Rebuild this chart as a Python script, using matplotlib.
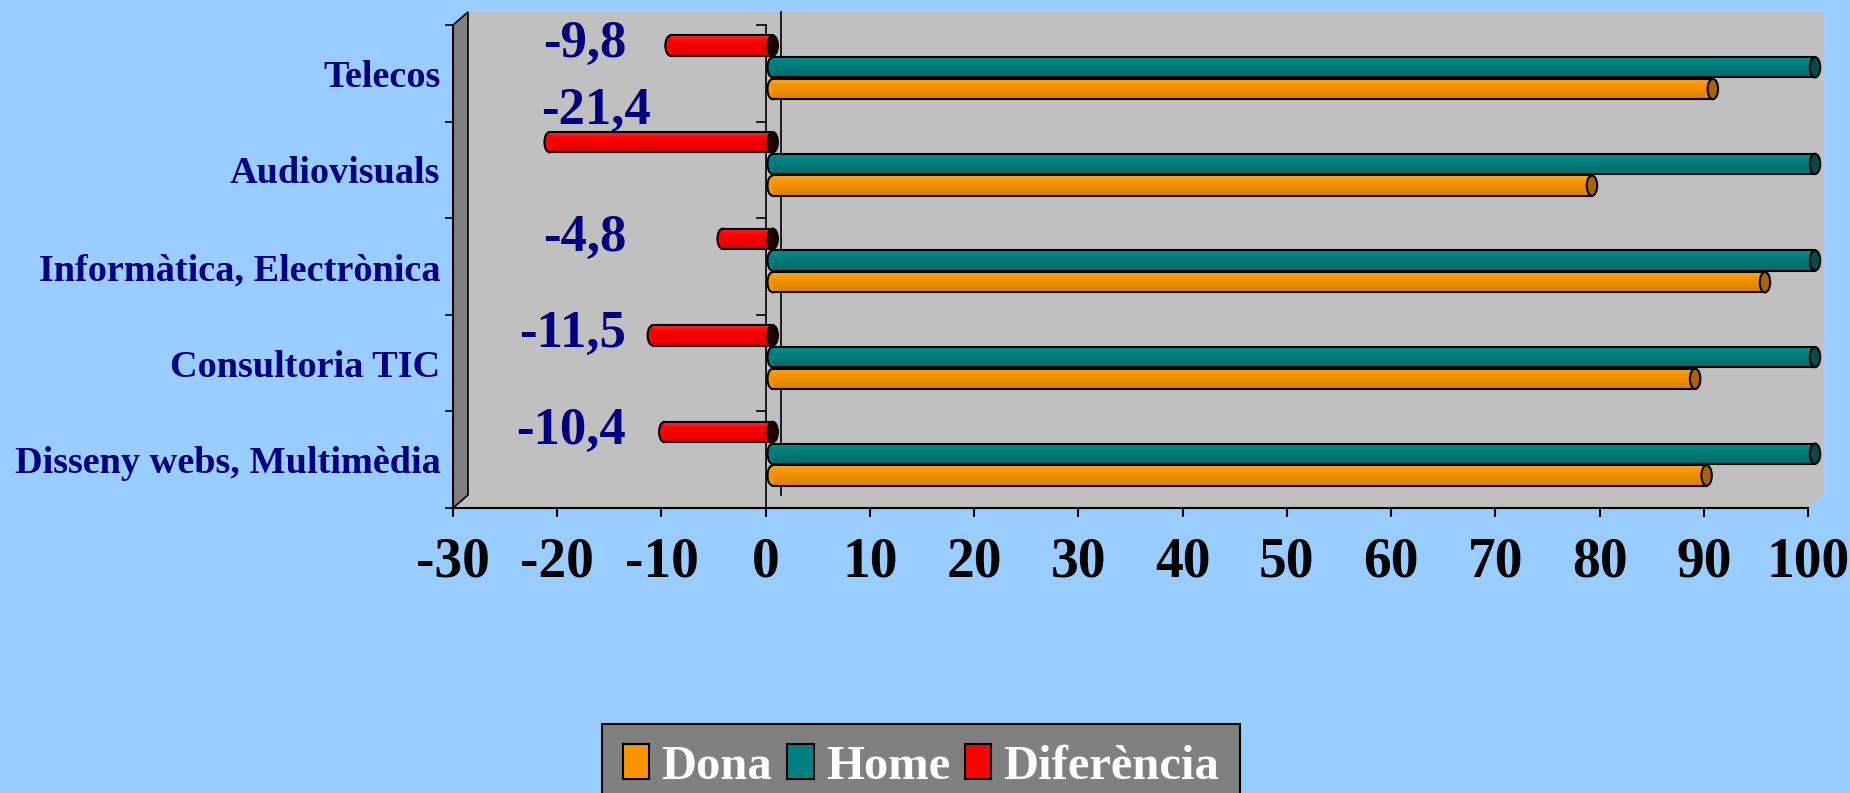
import matplotlib
matplotlib.use("Agg")
import matplotlib.pyplot as plt
from matplotlib.patches import Rectangle, Ellipse, Polygon, Patch
from matplotlib.transforms import ScaledTranslation, IdentityTransform
from matplotlib.font_manager import FontProperties
from matplotlib.colors import to_rgb
import numpy as np

# ---- data -------------------------------------------------------------
categories = ["Disseny webs, Multimèdia", "Consultoria TIC",
              "Informàtica, Electrònica", "Audiovisuals", "Telecos"]
dona = [89.6, 88.5, 95.2, 78.6, 90.2]
home = [100, 100, 100, 100, 100]
diferencia = [-10.4, -11.5, -4.8, -21.4, -9.8]
series_names = ["Dona", "Home", "Diferència"]
xticks = [-30, -20, -10, 0, 10, 20, 30, 40, 50, 60, 70, 80, 90, 100]

# ---- styling ----------------------------------------------------------
W, H, DPI = 1850, 793, 100
BG = "#99CCFF"
WALL = "#C0C0C0"
SIDE = "#808080"
NAVY = "#000080"
SERIF = "Liberation Serif"

colors = {  # (highlight, body, shade, end cap)
    "Dona": ("#FFA81F", "#F79400", "#D98000", "#A86400"),
    "Home": ("#0C8C8C", "#008080", "#006868", "#004A4A"),
    "Diferència": ("#FF2A2A", "#FF0000", "#D80000", "#200000"),
}

fig = plt.figure(figsize=(W / DPI, H / DPI), dpi=DPI)
fig.patch.set_facecolor(BG)

# front plane of the plot box, in pixels from the top-left corner
left, right, top, bottom = 453, 1808, 25, 508
ax = fig.add_axes([left / W, 1 - bottom / H, (right - left) / W, (bottom - top) / H])
ax.set_xlim(xticks[0], xticks[-1])
ax.set_ylim(0, len(categories))
ax.set_facecolor("none")

DEPTH = (15, 13)      # back wall offset (px)
MID = (7, 6)          # bars sit halfway into the depth


def shifted(dx, dy):
    return ax.transData + ScaledTranslation(dx / DPI, dy / DPI, fig.dpi_scale_trans)


def px(x, y, dx=0, dy=0):
    p = ax.transData.transform((x, y))
    return (p[0] + dx, p[1] + dy)


xmin, xmax = xticks[0], xticks[-1]
n = len(categories)

# back wall
ax.add_patch(Rectangle((xmin, 0), xmax - xmin, n, transform=shifted(*DEPTH),
                       facecolor=WALL, edgecolor="none", zorder=0, clip_on=False))
# floor strip under the bars
floor = [px(xmin, 0), px(xmax, 0), px(xmax, 0, *DEPTH), px(xmin, 0, *DEPTH)]
ax.add_patch(Polygon(floor, closed=True, transform=IdentityTransform(),
                     facecolor=WALL, edgecolor="none", zorder=0.1, clip_on=False))
# side wall on the category axis
side = [px(xmin, 0), px(xmin, n), px(xmin, n, *DEPTH), px(xmin, 0, *DEPTH)]
ax.add_patch(Polygon(side, closed=True, transform=IdentityTransform(),
                     facecolor=SIDE, edgecolor="black", linewidth=1.2,
                     zorder=0.2, clip_on=False))
# zero line on the back wall
ax.plot([0, 0], [0, n], color="black", lw=1.2, transform=shifted(*DEPTH),
        zorder=0.3, clip_on=False)
# zero line on the front plane with category ticks
ax.plot([0, 0], [0, n], color="black", lw=1.2, zorder=0.4, clip_on=False)
for b in range(n + 1):
    ax.plot([-0.8, 0], [b, b], color="black", lw=1.2, zorder=0.4, clip_on=False)


def mix(c1, c2, t):
    a, b = np.array(to_rgb(c1)), np.array(to_rgb(c2))
    return tuple(a + (b - a) * t)


def cylinder(yc, v, h, name):
    hi, body, shade, cap = colors[name]
    tr = shifted(*MID)
    x0, x1 = min(0, v), max(0, v)
    capw = 1.0
    # rounded far end
    ax.add_patch(Ellipse((x0, yc), capw, h, transform=tr, facecolor=body,
                         edgecolor="black", lw=1.5, zorder=2, clip_on=False))
    # shaded body built from horizontal strips
    k = 14
    for i in range(k):
        t = (i + 0.5) / k          # 0 = top, 1 = bottom
        if t < 0.3:
            c = mix(hi, body, t / 0.3)
        else:
            c = mix(body, shade, (t - 0.3) / 0.7)
        y_strip = yc + h / 2 - (i + 1) * h / k
        ax.add_patch(Rectangle((x0, y_strip), x1 - x0, h / k + 0.002, transform=tr,
                               facecolor=c, edgecolor="none", zorder=3, clip_on=False))
    ax.plot([x0, x1], [yc + h / 2] * 2, color="black", lw=1.5, transform=tr,
            zorder=4, clip_on=False)
    ax.plot([x0, x1], [yc - h / 2] * 2, color="black", lw=1.5, transform=tr,
            zorder=4, clip_on=False)
    # end cap
    ax.add_patch(Ellipse((x1, yc), capw, h, transform=tr, facecolor=cap,
                         edgecolor="black", lw=1.5, zorder=5, clip_on=False))


bh = 0.21
offsets = {"Diferència": 0.225, "Home": 0.0, "Dona": -0.225}
series = {"Dona": dona, "Home": home, "Diferència": diferencia}
for i in range(n):
    yc = i + 0.5
    for name in series_names:
        cylinder(yc + offsets[name], series[name][i], bh, name)

# value labels for the difference series
label_font = dict(family=SERIF, weight="bold", size=38, color=NAVY)
for i, v in enumerate(diferencia):
    yr = i + 0.5 + offsets["Diferència"]
    if v < -15:
        lx, ly = -11.0, yr + 0.25
    else:
        lx, ly = -13.4, yr - 0.06
    ax.text(lx, ly, f"{v:.1f}".replace(".", ","), ha="right", va="baseline",
            zorder=6, **label_font)

# axes, ticks and labels
for s in ("top", "right"):
    ax.spines[s].set_visible(False)
ax.spines["left"].set_linewidth(1.2)
ax.spines["bottom"].set_linewidth(1.5)

ax.set_xticks(xticks, labels=[str(t) for t in xticks])
ax.tick_params(axis="x", direction="out", length=6.5, width=1.5, pad=14,
               labelsize=40)
for lab in ax.get_xticklabels():
    lab.set_fontfamily(SERIF)
    lab.set_fontweight("bold")
    lab.set_color("black")

ax.set_yticks(range(n + 1), labels=[""] * (n + 1))
ax.set_yticks([i + 0.5 for i in range(n)], labels=categories, minor=True)
ax.tick_params(axis="y", which="major", direction="out", length=6, width=1.2)
ax.tick_params(axis="y", which="minor", length=0, pad=9, labelsize=27.5)
for lab in ax.get_yticklabels(minor=True):
    lab.set_fontfamily(SERIF)
    lab.set_fontweight("bold")
    lab.set_color(NAVY)

# legend
handles = [Patch(facecolor=colors[nm][1], edgecolor="black", linewidth=1.5)
           for nm in series_names]
leg = fig.legend(handles, series_names, loc="upper center",
                 bbox_to_anchor=(921 / W, 1 - 724 / H), ncol=3, frameon=True,
                 fancybox=False, facecolor="#808080", edgecolor="black",
                 framealpha=1, labelcolor="white",
                 prop=FontProperties(family=SERIF, weight="bold", size=35),
                 handlelength=0.55, handleheight=0.72, handletextpad=0.25,
                 columnspacing=0.3, borderpad=0.42, borderaxespad=0)
leg.get_frame().set_linewidth(1.5)

fig.savefig("out.png", dpi=DPI, facecolor=fig.get_facecolor())
